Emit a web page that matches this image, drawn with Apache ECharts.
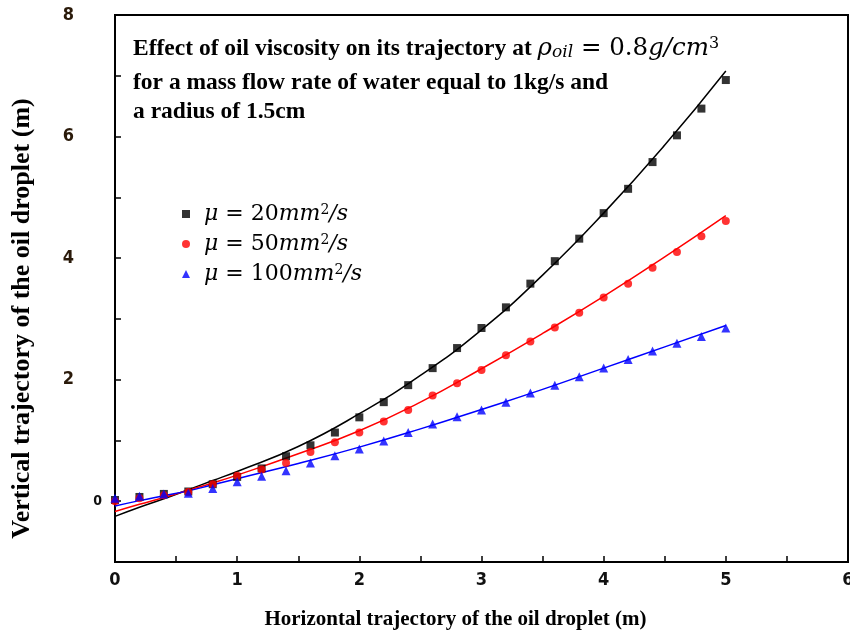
<!DOCTYPE html>
<html>
<head>
<meta charset="utf-8">
<script src="https://cdn.jsdelivr.net/npm/echarts@6/dist/echarts.min.js"></script>
<style>html,body{margin:0;padding:0;background:#fff}#c{width:850px;height:638px}</style>
</head>
<body>
<div id="c"></div>
<script>
// Data
const xPoints = [0,0.2,0.4,0.6,0.8,1.0,1.2,1.4,1.6,1.8,2.0,2.2,2.4,2.6,2.8,3.0,3.2,3.4,3.6,3.8,4.0,4.2,4.4,4.6,4.8,5.0];
const mu20Points  = [0.02,0.07,0.12,0.16,0.28,0.40,0.54,0.74,0.92,1.13,1.38,1.63,1.91,2.19,2.52,2.85,3.19,3.58,3.95,4.32,4.74,5.14,5.58,6.02,6.46,6.93];
const mu50Points  = [0.00,0.05,0.10,0.15,0.28,0.42,0.52,0.63,0.81,0.97,1.13,1.31,1.50,1.74,1.94,2.16,2.40,2.63,2.86,3.10,3.35,3.58,3.84,4.10,4.36,4.61];
const mu100Points = [0.05,0.08,0.12,0.13,0.21,0.32,0.41,0.50,0.63,0.75,0.86,0.99,1.13,1.27,1.39,1.50,1.63,1.78,1.91,2.05,2.19,2.33,2.47,2.60,2.71,2.85];

const xFit = [0,0.2,0.4,0.6,0.8,1.0,1.5,2.0,2.5,3.0,3.5,4.0,4.5,5.0];
const mu20Fit  = [-0.25,-0.10,0.04,0.19,0.34,0.49,0.90,1.44,2.07,2.82,3.72,4.74,5.86,7.08];
const mu50Fit  = [-0.17,-0.05,0.06,0.18,0.30,0.43,0.78,1.16,1.63,2.18,2.76,3.37,4.02,4.70];
const mu100Fit = [-0.08,0.01,0.09,0.17,0.27,0.37,0.62,0.89,1.19,1.51,1.84,2.19,2.54,2.89];

const xTicks = [0,1,2,3,4,5,6];
const yTicks = [0,2,4,6,8];
const seriesNames = ['μ20','μ50','μ100'];
const legendLabels = {'μ20':'20','μ50':'50','μ100':'100'};

const zip = (xs, ys) => xs.map((x, i) => [x, ys[i]]);

const chart = echarts.init(document.getElementById('c'));
const serifBold = '"Liberation Serif", "Times New Roman", serif';
const mathFont = '"DejaVu Serif", serif';
const digitFont = '"DejaVu Sans Condensed", "DejaVu Sans", sans-serif';

chart.setOption({
  animation: false,
  grid: {left: 115, right: 2, top: 15, bottom: 76, outerBoundsMode: 'none', containLabel: false,
         show: true, borderColor: '#000', borderWidth: 2},
  xAxis: {
    type: 'value', min: 0, max: 6, interval: 0.5,
    axisLine: {show: true, onZero: false, lineStyle: {color: '#000', width: 2}},
    axisTick: {show: true, inside: true, length: 6, lineStyle: {color: '#000', width: 1.5}},
    splitLine: {show: false},
    axisLabel: {
      margin: 9, color: '#111', fontFamily: digitFont, fontWeight: 'bold', fontSize: 18,
      formatter: v => (xTicks.indexOf(v) >= 0 ? String(v) : '')
    },
    name: 'Horizontal trajectory of the oil droplet (m)',
    nameLocation: 'middle', nameGap: 47,
    nameTextStyle: {fontFamily: serifBold, fontWeight: 'bold', fontSize: 21, color: '#000', padding: [0, 52, 0, 0]}
  },
  yAxis: {
    type: 'value', min: -1, max: 8, interval: 1,
    axisLine: {show: true, onZero: false, lineStyle: {color: '#000', width: 2}},
    axisTick: {show: true, inside: true, length: 6, lineStyle: {color: '#000', width: 1.5}},
    splitLine: {show: false},
    axisLabel: {
      margin: 13, color: '#111', fontFamily: digitFont, fontWeight: 'bold', fontSize: 18,
      formatter: v => {
        if (yTicks.indexOf(v) < 0) return '';
        return v === 0 ? '{z|0}' : '{o|' + v + '}';
      },
      rich: {
        z: {fontSize: 14, fontWeight: 'bold', fontFamily: digitFont, color: '#111'},
        o: {fontSize: 18, fontWeight: 'bold', fontFamily: digitFont, color: '#2a1a0a', padding: [0, 28, 0, 0]}
      }
    },
    name: 'Vertical trajectory of the oil droplet (m)',
    nameLocation: 'middle', nameGap: 80,
    nameTextStyle: {fontFamily: serifBold, fontWeight: 'bold', fontSize: 26, color: '#000', padding: [0, 60, 0, 0]}
  },
  legend: {
    data: seriesNames,
    orient: 'vertical', left: 177, top: 198, itemGap: 8,
    itemWidth: 8, itemHeight: 8,
    formatter: name => '{i|μ}{n| = ' + legendLabels[name] + '}{i2|mm}{s|2}{i2|/s}',
    textStyle: {
      rich: {
        i: {fontFamily: mathFont, fontStyle: 'italic', fontSize: 22, color: '#000', padding: [0, 0, 0, 9]},
        i2: {fontFamily: mathFont, fontStyle: 'italic', fontSize: 22, color: '#000'},
        n: {fontFamily: mathFont, fontSize: 22, color: '#000'},
        s: {fontFamily: mathFont, fontSize: 14, color: '#000', verticalAlign: 'top'}
      }
    }
  },
  graphic: [
    {type: 'text', left: 133, top: 36, style: {
      text: '{t|Effect of oil viscosity on its trajectory at }{m|ρ}{sb|oil}{n| = 0.8}{m|g/cm}{sp|3}',
      rich: {
        t: {fontFamily: serifBold, fontWeight: 'bold', fontSize: 23.5, fill: '#000'},
        m: {fontFamily: mathFont, fontStyle: 'italic', fontSize: 24.5, fill: '#000'},
        n: {fontFamily: mathFont, fontSize: 24.5, fill: '#000'},
        sb: {fontFamily: mathFont, fontStyle: 'italic', fontSize: 17, fill: '#000', verticalAlign: 'bottom'},
        sp: {fontFamily: mathFont, fontSize: 16, fill: '#000', verticalAlign: 'top'}
      }
    }},
    {type: 'text', left: 133, top: 71, style: {text: 'for a mass flow rate of water equal to 1kg/s and', font: 'bold 23.5px ' + serifBold, fill: '#000'}},
    {type: 'text', left: 133, top: 100, style: {text: 'a radius of 1.5cm', font: 'bold 23.5px ' + serifBold, fill: '#000'}}
  ],
  series: [
    {name: 'fit20', type: 'line', smooth: true, showSymbol: false, data: zip(xFit, mu20Fit), lineStyle: {color: '#000', width: 1.5}, z: 2},
    {name: 'fit50', type: 'line', smooth: true, showSymbol: false, data: zip(xFit, mu50Fit), lineStyle: {color: '#ff0000', width: 1.5}, z: 2},
    {name: 'fit100', type: 'line', smooth: true, showSymbol: false, data: zip(xFit, mu100Fit), lineStyle: {color: '#0000ff', width: 1.5}, z: 2},
    {name: 'μ20', type: 'scatter', symbol: 'rect', symbolSize: 8, data: zip(xPoints, mu20Points), itemStyle: {color: '#000'}, z: 3},
    {name: 'μ50', type: 'scatter', symbol: 'circle', symbolSize: 8, data: zip(xPoints, mu50Points), itemStyle: {color: '#ff0000'}, z: 4},
    {name: 'μ100', type: 'scatter', symbol: 'triangle', symbolSize: 9, data: zip(xPoints, mu100Points), itemStyle: {color: '#0000ff'}, z: 5}
  ]
});
</script>
</body>
</html>
